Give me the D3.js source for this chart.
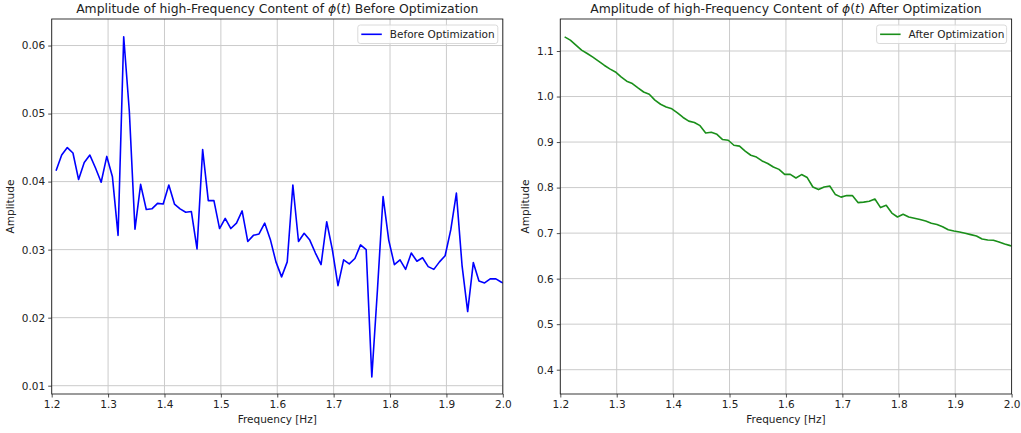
<!DOCTYPE html>
<html>
<head>
<meta charset="utf-8">
<script src="https://cdn.jsdelivr.net/npm/d3@7"></script>
<style>
  html, body { margin: 0; padding: 0; background: #fff; }
  svg text { font-family: "DejaVu Sans", sans-serif; fill: #222; }
</style>
</head>
<body>
<svg id="chart" width="1021" height="433"></svg>
<script>
// ---------------- data ----------------
const frequencies = [
  1.2077, 1.2177, 1.2277, 1.2377, 1.2477, 1.2577, 1.2677, 1.2777, 1.2877, 1.2977,
  1.3077, 1.3177, 1.3277, 1.3377, 1.3477, 1.3577, 1.3677, 1.3777, 1.3877, 1.3977,
  1.4077, 1.4177, 1.4277, 1.4377, 1.4477, 1.4577, 1.4677, 1.4777, 1.4877, 1.4977,
  1.5077, 1.5177, 1.5277, 1.5377, 1.5477, 1.5577, 1.5677, 1.5777, 1.5877, 1.5977,
  1.6077, 1.6177, 1.6277, 1.6377, 1.6477, 1.6577, 1.6677, 1.6777, 1.6877, 1.6977,
  1.7077, 1.7177, 1.7277, 1.7377, 1.7477, 1.7577, 1.7677, 1.7777, 1.7877, 1.7977,
  1.8077, 1.8177, 1.8277, 1.8377, 1.8477, 1.8577, 1.8677, 1.8777, 1.8877, 1.8977,
  1.9077, 1.9177, 1.9277, 1.9377, 1.9477, 1.9577, 1.9677, 1.9777, 1.9877, 1.9977,
  2.0077
];
const beforeAmplitude = [
  0.0416, 0.0439, 0.0450, 0.0442, 0.0403, 0.0428, 0.0439, 0.0420, 0.0399, 0.0437,
  0.0407, 0.0321, 0.0613, 0.0503, 0.0330, 0.0396, 0.0359, 0.0360, 0.0368, 0.0367,
  0.0395, 0.0367, 0.0360, 0.0355, 0.0356, 0.0301, 0.0447, 0.0372, 0.0372, 0.0331,
  0.0346, 0.0331, 0.0339, 0.0357, 0.0312, 0.0321, 0.0323, 0.0339, 0.0315, 0.0282,
  0.0260, 0.0282, 0.0395, 0.0312, 0.0324, 0.0314, 0.0295, 0.0278, 0.0341, 0.0300,
  0.0247, 0.0285, 0.0279, 0.0287, 0.0307, 0.0300, 0.0113, 0.0241, 0.0378, 0.0314,
  0.0278, 0.0285, 0.0271, 0.0295, 0.0283, 0.0288, 0.0275, 0.0271, 0.0282, 0.0291,
  0.0329, 0.0383, 0.0277, 0.0209, 0.0281, 0.0254, 0.0251, 0.0257, 0.0257, 0.0252,
  0.0249
];
const afterAmplitude = [
  1.131, 1.124, 1.113, 1.102, 1.0945, 1.0864, 1.0776, 1.0688, 1.0607, 1.054,
  1.043, 1.0336, 1.0286, 1.019, 1.010, 1.005, 0.992, 0.983, 0.977, 0.973,
  0.964, 0.954, 0.946, 0.943, 0.936, 0.920, 0.9215, 0.917, 0.9055, 0.904,
  0.893, 0.891, 0.880, 0.871, 0.867, 0.8585, 0.853, 0.8453, 0.840, 0.829,
  0.829, 0.821, 0.8286, 0.822, 0.8013, 0.7956, 0.8013, 0.8035, 0.7846, 0.779,
  0.7824, 0.7824, 0.767, 0.768, 0.770, 0.775, 0.756, 0.761, 0.744, 0.7354,
  0.7413, 0.7354, 0.7325, 0.7297, 0.7266, 0.7215, 0.719, 0.714, 0.7075, 0.7046,
  0.7024, 0.6996, 0.6967, 0.6937, 0.687, 0.6848, 0.6842, 0.6804, 0.676, 0.6725,
  0.670
];
const xTicks = [1.2, 1.3, 1.4, 1.5, 1.6, 1.7, 1.8, 1.9, 2.0];
const beforeYTicks = [0.01, 0.02, 0.03, 0.04, 0.05, 0.06];
const afterYTicks = [0.4, 0.5, 0.6, 0.7, 0.8, 0.9, 1.0, 1.1];
const xLimits = [1.2, 2.0];
const beforeYLimits = [0.00878, 0.0639];
const afterYLimits = [0.3466, 1.1703];

// ---------------- drawing ----------------
const svg = d3.select("#chart");

function panel(opts) {
  const { left, right, top, bottom, yDomain, yTicks, yFmt, values, color, title, legendLabel, ylabelX, clipId } = opts;
  const g = svg.append("g");
  const x = d3.scaleLinear().domain(xLimits).range([left, right]);
  const y = d3.scaleLinear().domain(yDomain).range([bottom, top]);

  // grid
  g.append("g").selectAll("line.vg").data(xTicks).join("line")
    .attr("x1", d => x(d)).attr("x2", d => x(d)).attr("y1", top).attr("y2", bottom)
    .attr("stroke", "#cbcbcb").attr("stroke-width", 1);
  g.append("g").selectAll("line.hg").data(yTicks).join("line")
    .attr("x1", left).attr("x2", right).attr("y1", d => y(d)).attr("y2", d => y(d))
    .attr("stroke", "#cbcbcb").attr("stroke-width", 1);

  // clip
  svg.append("clipPath").attr("id", clipId).append("rect")
    .attr("x", left).attr("y", top).attr("width", right - left).attr("height", bottom - top);

  // line
  const pts = frequencies.map((f, i) => [f, values[i]]);
  g.append("path").datum(pts)
    .attr("clip-path", `url(#${clipId})`)
    .attr("fill", "none").attr("stroke", color).attr("stroke-width", 1.6)
    .attr("stroke-linejoin", "round")
    .attr("d", d3.line().x(d => x(d[0])).y(d => y(d[1])));

  // axes
  const xAxis = d3.axisBottom(x).tickValues(xTicks).tickFormat(d3.format(".1f")).tickSize(3.5).tickPadding(3);
  const yAxis = d3.axisLeft(y).tickValues(yTicks).tickFormat(yFmt).tickSize(3.5).tickPadding(3);
  const xa = g.append("g").attr("transform", `translate(0,${bottom})`).call(xAxis);
  const ya = g.append("g").attr("transform", `translate(${left},0)`).call(yAxis);
  [xa, ya].forEach(a => {
    a.select(".domain").remove();
    a.selectAll(".tick line").attr("stroke", "#222").attr("stroke-width", 0.8);
    a.selectAll(".tick text").attr("font-size", 10.5).attr("fill", "#222")
      .style("font-family", "DejaVu Sans, sans-serif");
  });

  // frame
  g.append("rect").attr("x", left).attr("y", top).attr("width", right - left).attr("height", bottom - top)
    .attr("fill", "none").attr("stroke", "#222").attr("stroke-width", 0.9);

  // title with math phi(t)
  const t = g.append("text").attr("x", (left + right) / 2).attr("y", 13)
    .attr("text-anchor", "middle").attr("font-size", 12.4);
  t.append("tspan").text(title[0]);
  t.append("tspan").attr("font-style", "italic").text("ϕ");
  t.append("tspan").text("(");
  t.append("tspan").attr("font-style", "italic").text("t");
  t.append("tspan").text(")" + title[1]);

  // axis labels
  g.append("text").attr("x", (left + right) / 2).attr("y", bottom + 29)
    .attr("text-anchor", "middle").attr("font-size", 10.5).text("Frequency [Hz]");
  g.append("text").attr("transform", `translate(${ylabelX},${(top + bottom) / 2}) rotate(-90)`)
    .attr("text-anchor", "middle").attr("font-size", 10.5).text("Amplitude");

  // legend
  const lg = g.append("g");
  const lw = opts.legendWidth;
  const lx = right - 5 - lw, ly = top + 6;
  lg.append("rect").attr("x", lx).attr("y", ly).attr("width", lw).attr("height", 18.5)
    .attr("rx", 2.5).attr("fill", "#fff").attr("fill-opacity", 0.8)
    .attr("stroke", "#d6d6d6").attr("stroke-width", 0.9);
  lg.append("line").attr("x1", lx + 3.5).attr("x2", lx + 24).attr("y1", ly + 9.3).attr("y2", ly + 9.3)
    .attr("stroke", color).attr("stroke-width", 1.6);
  lg.append("text").attr("x", lx + 32).attr("y", ly + 13).attr("font-size", 10.5).text(legendLabel);
}

panel({
  left: 51.7, right: 502.8, top: 19, bottom: 394,
  yDomain: beforeYLimits, yTicks: beforeYTicks, yFmt: d3.format(".2f"),
  values: beforeAmplitude, color: "#0000ff",
  title: ["Amplitude of high-Frequency Content of ", " Before Optimization"],
  legendLabel: "Before Optimization", legendWidth: 140, ylabelX: 14, clipId: "clipL"
});
panel({
  left: 560.3, right: 1011.6, top: 19, bottom: 394,
  yDomain: afterYLimits, yTicks: afterYTicks, yFmt: d3.format(".1f"),
  values: afterAmplitude, color: "#1a8f1a",
  title: ["Amplitude of high-Frequency Content of ", " After Optimization"],
  legendLabel: "After Optimization", legendWidth: 130, ylabelX: 529, clipId: "clipR"
});
</script>
</body>
</html>
